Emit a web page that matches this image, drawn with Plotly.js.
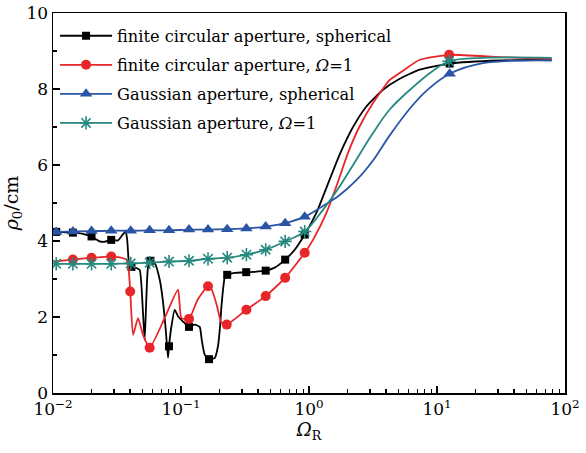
<!DOCTYPE html>
<html>
<head>
<meta charset="utf-8">
<script src="https://cdn.plot.ly/plotly-3.0.1.min.js"></script>
<style>html,body{margin:0;padding:0;background:#fff}#chart{width:586px;height:453px}</style>
</head>
<body>
<div id="chart"></div>
<script>
// ---- Data ----
const seriesNames = [
  "finite circular aperture, spherical",
  "finite circular aperture, <i>Ω</i>=1",
  "Gaussian aperture, spherical",
  "Gaussian aperture, <i>Ω</i>=1"
];

// finite circular aperture, spherical (black)
const blackX = [0.0101,0.01069,0.01233,0.01432,0.01706,0.01995,0.02315,0.02535,0.02825,0.03201,0.03503,0.03698,0.03800,0.03926,0.04096,0.04484,0.04756,0.05047,0.05204,0.05366,0.05524,0.05767,0.06230,0.06823,0.07200,0.07598,0.07915,0.08058,0.08414,0.08927,0.09476,0.1037,0.1155,0.1280,0.1400,0.1452,0.1532,0.1655,0.1834,0.1945,0.2024,0.2070,0.2195,0.2296,0.2627,0.3231,0.3764,0.4588,0.5397,0.6514,0.7730,0.9255,1.142,1.368,1.738,2.208,2.808,3.786,5.113,7.33,12.56,30.9,78.7];
const blackY = [4.27,4.24,4.23,4.22,4.19,4.12,3.99,3.98,4.03,4.01,4.17,4.25,4.03,3.42,3.32,3.29,3.24,2.11,1.40,2.53,3.32,3.48,3.42,2.98,2.46,1.67,0.93,1.23,1.75,2.19,2.02,1.88,1.74,1.80,1.74,1.40,1.01,0.89,0.92,1.23,1.80,2.28,3.03,3.11,3.16,3.18,3.19,3.22,3.30,3.51,3.77,4.17,4.74,5.40,6.28,7.00,7.54,7.98,8.27,8.51,8.67,8.75,8.77];
const blackMX = [0.0106,0.0143,0.0200,0.0285,0.0410,0.0577,0.0806,0.1155,0.1655,0.2296,0.3231,0.4588,0.6514,0.9255,12.56];
const blackMY = [4.24,4.22,4.12,4.03,3.32,3.48,1.23,1.74,0.89,3.11,3.18,3.22,3.51,4.17,8.67];

// finite circular aperture, Omega=1 (red)
const redX = [0.0101,0.01425,0.02004,0.02851,0.03321,0.03744,0.03903,0.04014,0.04222,0.04618,0.05047,0.05692,0.07469,0.09476,0.1007,0.1155,0.1351,0.1626,0.1738,0.1901,0.2070,0.2276,0.3243,0.4588,0.6514,0.9255,1.075,1.368,1.637,2.017,2.489,3.162,4.272,5.113,7.33,12.45,30.9,78.7];
const redY = [3.46,3.51,3.56,3.59,3.57,3.51,3.24,2.67,1.53,1.97,1.53,1.19,1.98,2.72,1.97,1.95,2.46,2.81,2.72,2.32,1.85,1.80,2.19,2.55,3.03,3.69,4.03,4.74,5.44,6.32,7.02,7.63,8.24,8.42,8.77,8.90,8.84,8.79];
const redMX = [0.0143,0.0200,0.0285,0.0401,0.0569,0.1155,0.1626,0.2276,0.3243,0.4588,0.6514,0.9255,12.45];
const redMY = [3.51,3.56,3.59,2.67,1.19,1.95,2.81,1.80,2.19,2.55,3.03,3.69,8.90];

// Gaussian aperture, spherical (blue)
const blueX = [0.0101,0.0106,0.0143,0.0200,0.0285,0.0405,0.0569,0.0806,0.1155,0.1626,0.2296,0.3243,0.4588,0.6514,0.9255,1.285,1.738,2.344,3.162,4.272,6.118,8.26,12.56,22.86,78.7];
const blueY = [4.24,4.24,4.25,4.26,4.27,4.27,4.28,4.28,4.30,4.30,4.31,4.33,4.38,4.47,4.64,4.92,5.21,5.60,6.12,6.78,7.48,7.95,8.40,8.68,8.75];
const blueMX = [0.0106,0.0143,0.0200,0.0285,0.0405,0.0569,0.0806,0.1155,0.1626,0.2296,0.3243,0.4588,0.6514,0.9255,12.56];
const blueMY = [4.24,4.25,4.26,4.27,4.27,4.28,4.28,4.30,4.30,4.31,4.33,4.38,4.47,4.64,8.40];

// Gaussian aperture, Omega=1 (teal)
const tealX = [0.0101,0.0106,0.0143,0.0200,0.0285,0.0405,0.0569,0.0806,0.1155,0.1626,0.2296,0.3243,0.4588,0.6514,0.9255,1.285,1.738,2.344,3.162,4.272,6.494,9.31,12.41,22.86,78.7];
const tealY = [3.40,3.40,3.40,3.40,3.40,3.41,3.43,3.46,3.48,3.53,3.56,3.64,3.77,3.99,4.25,4.82,5.44,6.14,6.84,7.46,8.05,8.48,8.73,8.82,8.82];
const tealMX = [0.0106,0.0143,0.0200,0.0285,0.0405,0.0569,0.0806,0.1155,0.1626,0.2296,0.3243,0.4588,0.6514,0.9255,12.41];
const tealMY = [3.40,3.40,3.40,3.40,3.41,3.43,3.46,3.48,3.53,3.56,3.64,3.77,3.99,4.25,8.73];

const xTickVals = [0.01, 0.1, 1, 10, 100];
const xTickText = ["10<sup>−2</sup>", "10<sup>−1</sup>", "10<sup>0</sup>", "10<sup>1</sup>", "10<sup>2</sup>"];
const yTickVals = [0, 2, 4, 6, 8, 10];

// ---- Styles ----
const colors = ["#000000", "#e8262a", "#2a55a6", "#26897f"];
const symbols = ["square", "circle", "triangle-up", "asterisk-open"];
const msizes = [8, 10, 11, 11];
const smooth = [0.5, 0.5, 1.0, 1.0];
const curves = [[blackX, blackY], [redX, redY], [blueX, blueY], [tealX, tealY]];
const marks = [[blackMX, blackMY], [redMX, redMY], [blueMX, blueMY], [tealMX, tealMY]];

const FONT = "DejaVu Serif, Liberation Serif, serif";
const traces = [];
for (let i = 0; i < 4; i++) {
  const mk = {symbol: symbols[i], size: msizes[i], color: colors[i], line: {color: colors[i], width: i === 3 ? 1.6 : 0}};
  traces.push({x: curves[i][0], y: curves[i][1], mode: "lines", line: {color: colors[i], width: 1.8, shape: "spline", smoothing: smooth[i]}, showlegend: false, hoverinfo: "skip"});
  traces.push({x: marks[i][0], y: marks[i][1], mode: "markers", marker: mk, showlegend: false, hoverinfo: "skip"});
}
// legend entries (line + marker)
for (let i = 0; i < 4; i++) {
  traces.push({x: [null], y: [null], mode: "lines+markers", name: seriesNames[i], legendgroup: "g" + i,
    line: {color: colors[i], width: 1.8},
    marker: {symbol: symbols[i], size: msizes[i], color: colors[i], line: {color: colors[i], width: i === 3 ? 1.6 : 0}}});
}

const minorX = [];
for (let e = -2; e < 2; e++) for (let m = 2; m <= 9; m++) minorX.push(m * Math.pow(10, e));

const layout = {
  width: 586, height: 453,
  margin: {l: 53, r: 21, t: 13, b: 60},
  paper_bgcolor: "#ffffff", plot_bgcolor: "#ffffff",
  font: {family: FONT, size: 17, color: "#000"},
  showlegend: true,
  legend: {x: 0.004, y: 0.985, xanchor: "left", yanchor: "top", bgcolor: "rgba(0,0,0,0)", borderwidth: 0,
    font: {family: FONT, size: 16.2, color: "#000"}, itemwidth: 52, tracegroupgap: 5},
  xaxis: {
    type: "log", range: [-2, 2],
    tickmode: "array", tickvals: xTickVals, ticktext: xTickText,
    ticks: "inside", ticklen: 7, tickwidth: 1.2, tickcolor: "#000",
    minor: {ticks: "inside", ticklen: 4, tickwidth: 1.2, tickcolor: "#000", tickmode: "array", tickvals: minorX, showgrid: false},
    showline: true, linecolor: "#000", linewidth: 1.5, mirror: true,
    showgrid: false, zeroline: false,
    tickfont: {family: FONT, size: 17},
    title: {text: "<i>Ω</i><sub>R</sub>", font: {family: FONT, size: 18}, standoff: 4}
  },
  yaxis: {
    range: [0, 10],
    tickmode: "array", tickvals: yTickVals,
    ticks: "inside", ticklen: 7, tickwidth: 1.2, tickcolor: "#000",
    minor: {ticks: "inside", ticklen: 4, tickwidth: 1.2, tickcolor: "#000", dtick: 1, showgrid: false},
    showline: true, linecolor: "#000", linewidth: 1.5, mirror: true,
    showgrid: false, zeroline: false,
    tickfont: {family: FONT, size: 17},
    title: {text: "<i>ρ</i><sub>0</sub>/cm", font: {family: FONT, size: 19}, standoff: 4}
  }
};

Plotly.newPlot("chart", traces, layout, {staticPlot: true, displayModeBar: false});
</script>
</body>
</html>
